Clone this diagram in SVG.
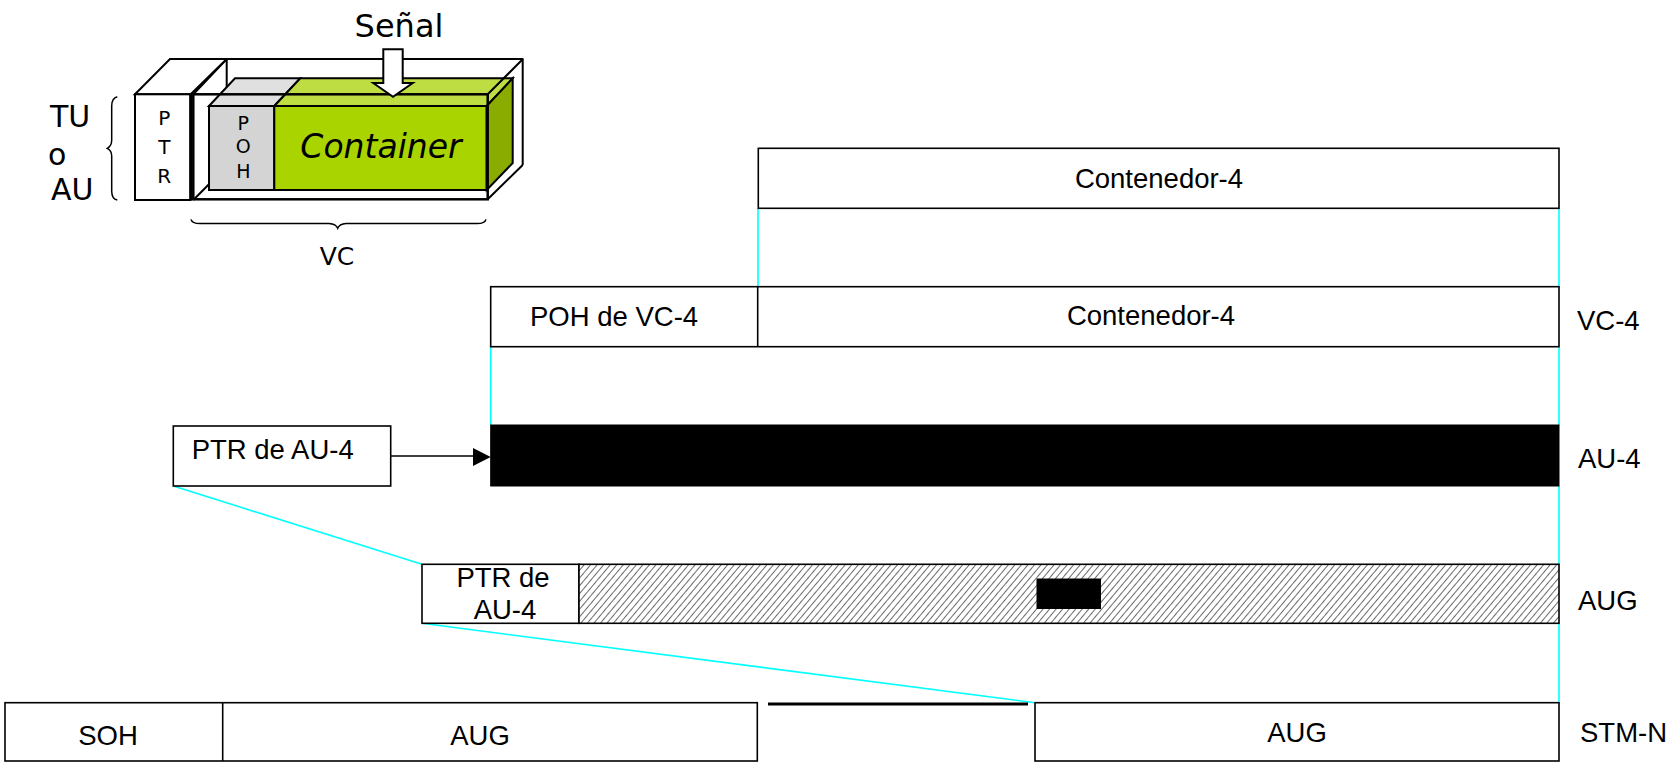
<svg xmlns="http://www.w3.org/2000/svg" width="1674" height="762" viewBox="0 0 1674 762">
<style>
  .box { fill: #ffffff; stroke: #000000; stroke-width: 1.6; }
  .lbl { font-family: "Liberation Sans", Arial, sans-serif; font-size: 27.5px; fill: #000000; }
  .mid { text-anchor: middle; }
  .cyan { stroke: #00ffff; stroke-width: 1.6; fill: none; }
  .k3 { stroke: #000000; stroke-width: 2; fill: none; stroke-linejoin: round; }
  .cs { font-family: "DejaVu Sans", "Noto Sans", sans-serif; fill: #000000; }
</style>
<defs>
  <pattern id="hatch" width="5" height="5" patternUnits="userSpaceOnUse" patternTransform="rotate(40)">
    <rect width="5" height="5" fill="#ffffff"/>
    <line x1="0" y1="0" x2="0" y2="5" stroke="#1a1a1a" stroke-width="1.3"/>
  </pattern>
</defs>
<rect width="1674" height="762" fill="#ffffff"/>

<!-- 3D illustration -->
<g id="illustration">
  <path class="k3" d="M226.7,59 H522.7 V165 M226.7,59 V165 M193.3,200 L228,165"/>
  <polygon points="209,106 235,78.3 300.3,78.3 274.3,106" fill="#e0e0e0" stroke="#000" stroke-width="2"/>
  <rect x="209" y="106" width="65.3" height="84" fill="#d4d4d4" stroke="#000" stroke-width="2"/>
  <polygon points="274.3,106 300.3,78.3 512.7,78.3 486.7,106" fill="#bedd42" stroke="#000" stroke-width="2"/>
  <rect x="274.3" y="106" width="212.4" height="84" fill="#aad400" stroke="#000" stroke-width="2"/>
  <polygon points="486.7,106 512.7,78.3 512.7,163 486.7,190" fill="#8aac00" stroke="#000" stroke-width="2"/>
  <rect x="193.3" y="94.3" width="294.4" height="105" fill="none" stroke="#000" stroke-width="2.5"/>
  <path class="k3" d="M193.3,94.3 L226.7,59 M487.7,94.3 L522.7,59.3 M487.7,199.3 L522.7,165"/>
  <polygon points="135,94.3 170,59 226.7,59 190.7,94.3" fill="#ffffff" stroke="#000" stroke-width="2"/>
  <rect x="135" y="94.3" width="55.7" height="105.7" fill="#ffffff" stroke="#000" stroke-width="2"/>
  <line x1="190.7" y1="94.3" x2="190.7" y2="200" stroke="#000" stroke-width="3"/>
  <text class="cs" font-size="20" text-anchor="middle" x="164.3" y="125">P</text>
  <text class="cs" font-size="20" text-anchor="middle" x="164.3" y="154">T</text>
  <text class="cs" font-size="20" text-anchor="middle" x="164.3" y="183.3">R</text>
  <text class="cs" font-size="19" text-anchor="middle" x="243.3" y="130">P</text>
  <text class="cs" font-size="19" text-anchor="middle" x="243.3" y="153">O</text>
  <text class="cs" font-size="19" text-anchor="middle" x="243.3" y="177.5">H</text>
  <text class="cs" font-size="33" font-style="italic" text-anchor="middle" x="381" y="158">Container</text>
  <polygon points="383.3,49.3 402.7,49.3 402.7,83 412.7,83 393,96.7 373.3,83 383.3,83" fill="#ffffff" stroke="#000" stroke-width="2"/>
  <text class="cs" font-size="32" text-anchor="middle" x="399" y="36.7">Señal</text>
  <text class="cs" font-size="30" x="50" y="126.7">TU</text>
  <text class="cs" font-size="30" x="48" y="165">o</text>
  <text class="cs" font-size="30" x="51" y="200">AU</text>
  <path d="M117.3,96.7 Q111.7,98 111.7,106 V140 Q111.7,146 107.3,148.3 Q111.7,150.6 111.7,156 V191 Q111.7,199 117.3,200" fill="none" stroke="#000" stroke-width="1.5"/>
  <path d="M191,219.3 Q192,223.5 200,223.5 H329 Q336,224 337.7,228.3 Q339.4,224 346,223.5 H477 Q485,223.5 486,219.3" fill="none" stroke="#000" stroke-width="1.5"/>
  <text class="cs" font-size="25" text-anchor="middle" x="337" y="265">VC</text>
</g>

<!-- connectors -->
<g id="connectors">
  <line class="cyan" x1="758" y1="208.3" x2="758" y2="286.7"/>
  <line class="cyan" x1="1559" y1="208.3" x2="1559" y2="286.7"/>
  <line class="cyan" x1="490.7" y1="346.7" x2="490.7" y2="425"/>
  <line class="cyan" x1="1559" y1="346.7" x2="1559" y2="425"/>
  <line class="cyan" x1="1559" y1="486" x2="1559" y2="564.3"/>
  <line class="cyan" x1="173.3" y1="486" x2="422" y2="564.3"/>
  <line class="cyan" x1="422" y1="623.3" x2="1035" y2="702.7"/>
  <line class="cyan" x1="1559" y1="623.3" x2="1559" y2="702.7"/>
  <line x1="390.7" y1="456" x2="474" y2="456" stroke="#000" stroke-width="1.6"/>
  <polygon points="473,448 490.7,457 473,466" fill="#000"/>
  <line x1="768" y1="704" x2="1028" y2="704" stroke="#000" stroke-width="3"/>
</g>

<g id="c4">
  <rect class="box" x="758.3" y="148.3" width="800.7" height="60"/>
  <text class="lbl mid" x="1159" y="188.3">Contenedor-4</text>
</g>

<g id="vc4">
  <rect class="box" x="490.7" y="286.7" width="1068.3" height="60"/>
  <line x1="757.7" y1="286.7" x2="757.7" y2="346.7" stroke="#000" stroke-width="1.6"/>
  <text class="lbl" x="530" y="326">POH de VC-4</text>
  <text class="lbl mid" x="1151" y="325">Contenedor-4</text>
  <text class="lbl" x="1577" y="330">VC-4</text>
</g>

<g id="au4">
  <rect x="490.7" y="425" width="1068.3" height="61" fill="#000" stroke="#000" stroke-width="1"/>
  <text class="lbl" x="1578" y="468.3">AU-4</text>
</g>
<g id="ptr-au4">
  <rect class="box" x="173.3" y="426" width="217.4" height="60"/>
  <text class="lbl" x="191.7" y="459">PTR de AU-4</text>
</g>

<g id="aug">
  <rect class="box" x="422" y="564.3" width="157" height="59"/>
  <text class="lbl mid" x="503" y="587">PTR de</text>
  <text class="lbl mid" x="505" y="619">AU-4</text>
  <rect x="579" y="564.3" width="980" height="59" fill="url(#hatch)" stroke="#000" stroke-width="1.6"/>
  <rect x="1036.5" y="578.5" width="64.5" height="30.5" fill="#000"/>
  <text class="lbl" x="1578" y="610">AUG</text>
</g>

<g id="stm">
  <rect class="box" x="5" y="702.7" width="752.3" height="58.3"/>
  <line x1="222.7" y1="702.7" x2="222.7" y2="761" stroke="#000" stroke-width="1.6"/>
  <text class="lbl mid" x="108" y="745">SOH</text>
  <text class="lbl mid" x="480" y="745">AUG</text>
  <rect class="box" x="1035" y="702.7" width="524" height="58.3"/>
  <text class="lbl mid" x="1297" y="742">AUG</text>
  <text class="lbl" x="1580" y="741.7">STM-N</text>
</g>
</svg>
